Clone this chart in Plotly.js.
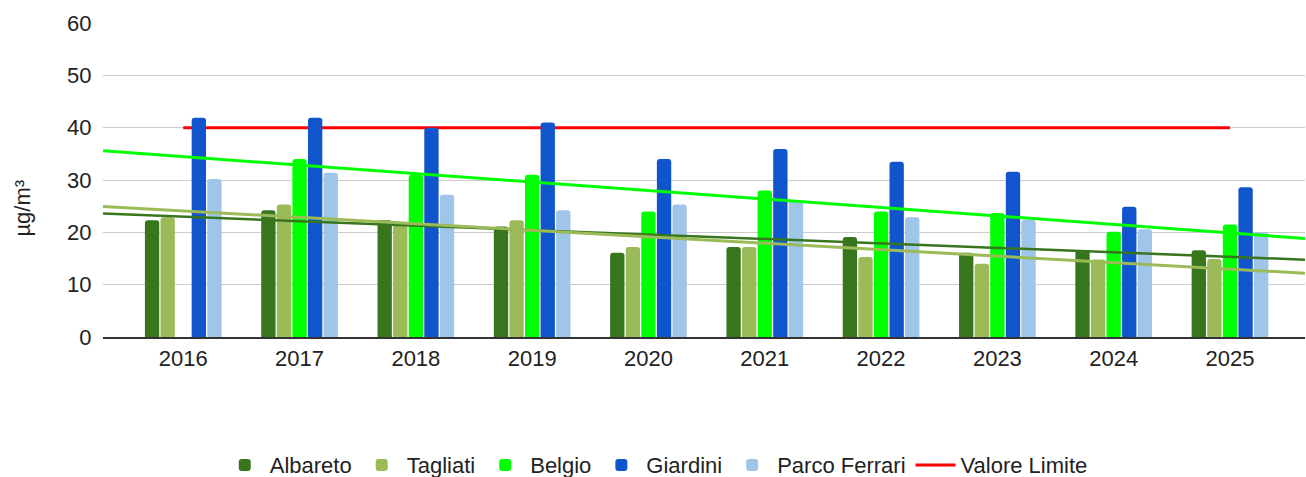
<!DOCTYPE html>
<html>
<head>
<meta charset="utf-8">
<script src="https://cdn.plot.ly/plotly-3.0.1.min.js"></script>
<style>html,body{margin:0;padding:0;background:#fff;}#chart{width:1306px;height:477px;}</style>
</head>
<body>
<div id="chart"></div>
<script>
const years = [2016, 2017, 2018, 2019, 2020, 2021, 2022, 2023, 2024, 2025];
const albareto = [22.3, 24.2, 22.3, 21.1, 16.1, 17.2, 19.1, 16.1, 16.6, 16.6];
const tagliati = [22.9, 25.3, 21.5, 22.3, 17.2, 17.2, 15.3, 14.0, 14.8, 14.9];
const belgio = [null, 34.0, 31.0, 31.0, 24.0, 28.0, 24.0, 23.7, 20.1, 21.5];
const giardini = [41.9, 41.9, 40.0, 41.0, 34.0, 35.9, 33.5, 31.6, 24.9, 28.6];
const parcoFerrari = [30.2, 31.4, 27.2, 24.2, 25.3, 26.2, 22.9, 22.4, 20.6, 20.0];
const valoreLimite = [40, 40, 40, 40, 40, 40, 40, 40, 40, 40];
const yTicks = [0, 10, 20, 30, 40, 50, 60];

const xRange = [2015.31, 2025.645];

function trend(xs, ys) {
  const pts = xs.map((x, i) => [x, ys[i]]).filter(p => p[1] !== null);
  const n = pts.length;
  const mx = pts.reduce((s, p) => s + p[0], 0) / n;
  const my = pts.reduce((s, p) => s + p[1], 0) / n;
  let sxy = 0, sxx = 0;
  pts.forEach(p => { sxy += (p[0] - mx) * (p[1] - my); sxx += (p[0] - mx) ** 2; });
  const b = sxy / sxx, a = my - b * mx;
  return { x: xRange, y: xRange.map(x => a + b * x) };
}

const FONT = '"Liberation Sans", Arial, sans-serif';
const colors = {
  albareto: '#38761d', tagliati: '#9bbb59', belgio: '#00ff00',
  giardini: '#1155cc', parco: '#9fc5e8', limite: '#ff0000'
};

function bar(name, ys, color, rank) {
  return { type: 'bar', name: name, x: years, y: ys, xaxis: 'x2', yaxis: 'y2',
    marker: { color: color, line: { width: 0 } }, legendrank: rank, hoverinfo: 'x+y+name' };
}
function tl(ys, color, w) {
  const t = trend(years, ys);
  return { type: 'scatter', mode: 'lines', x: t.x, y: t.y, xaxis: 'x2', yaxis: 'y2',
    line: { color: color, width: w }, showlegend: false, hoverinfo: 'skip' };
}

const data = [
  { type: 'scatter', mode: 'lines', name: 'Valore Limite', x: years, y: valoreLimite,
    line: { color: colors.limite, width: 3 }, legendrank: 6 },
  bar('Albareto', albareto, colors.albareto, 1),
  bar('Tagliati', tagliati, colors.tagliati, 2),
  bar('Belgio', belgio, colors.belgio, 3),
  bar('Giardini', giardini, colors.giardini, 4),
  bar('Parco Ferrari', parcoFerrari, colors.parco, 5),
  tl(albareto, colors.albareto, 2.5),
  tl(tagliati, colors.tagliati, 3),
  tl(belgio, colors.belgio, 3)
];

const layout = {
  width: 1306, height: 477,
  margin: { l: 103, r: 1, t: 23, b: 140, pad: 0 },
  paper_bgcolor: '#ffffff', plot_bgcolor: '#ffffff',
  font: { family: FONT, size: 22, color: '#222222' },
  barmode: 'group', bargap: 0.33, bargroupgap: 0.08, barcornerradius: 3,
  showlegend: true,
  legend: { orientation: 'h', xref: 'container', yref: 'container', x: 0.5025, xanchor: 'center',
    y: 0.025, yanchor: 'middle', font: { family: FONT, size: 22, color: '#222222' },
    traceorder: 'normal', itemwidth: 40 },
  xaxis: { range: xRange, tickvals: years, ticktext: years.map(String), showgrid: false,
    zeroline: false, showline: true, linecolor: '#333333', linewidth: 2,
    ticks: 'outside', ticklen: 1, tickcolor: 'rgba(0,0,0,0)',
    tickfont: { family: FONT, size: 22, color: '#222222' }, fixedrange: true },
  yaxis: { range: [0, 60], tickvals: yTicks, showgrid: true, gridcolor: '#cccccc', gridwidth: 1,
    zeroline: false, showline: false, ticks: 'outside', ticklen: 6, tickcolor: 'rgba(0,0,0,0)',
    tickfont: { family: FONT, size: 22, color: '#222222' }, fixedrange: true },
  xaxis2: { range: xRange, overlaying: 'x', visible: false, fixedrange: true },
  yaxis2: { range: [0, 60], overlaying: 'y', visible: false, fixedrange: true },
  annotations: [{ text: 'µg/m³', textangle: -90, xref: 'paper', yref: 'paper',
    x: -0.0666, y: 0.412, xanchor: 'center', yanchor: 'middle', showarrow: false,
    font: { family: FONT, size: 22, color: '#222222' } }]
};

Plotly.newPlot('chart', data, layout, { displayModeBar: false, staticPlot: true });
</script>
</body>
</html>
